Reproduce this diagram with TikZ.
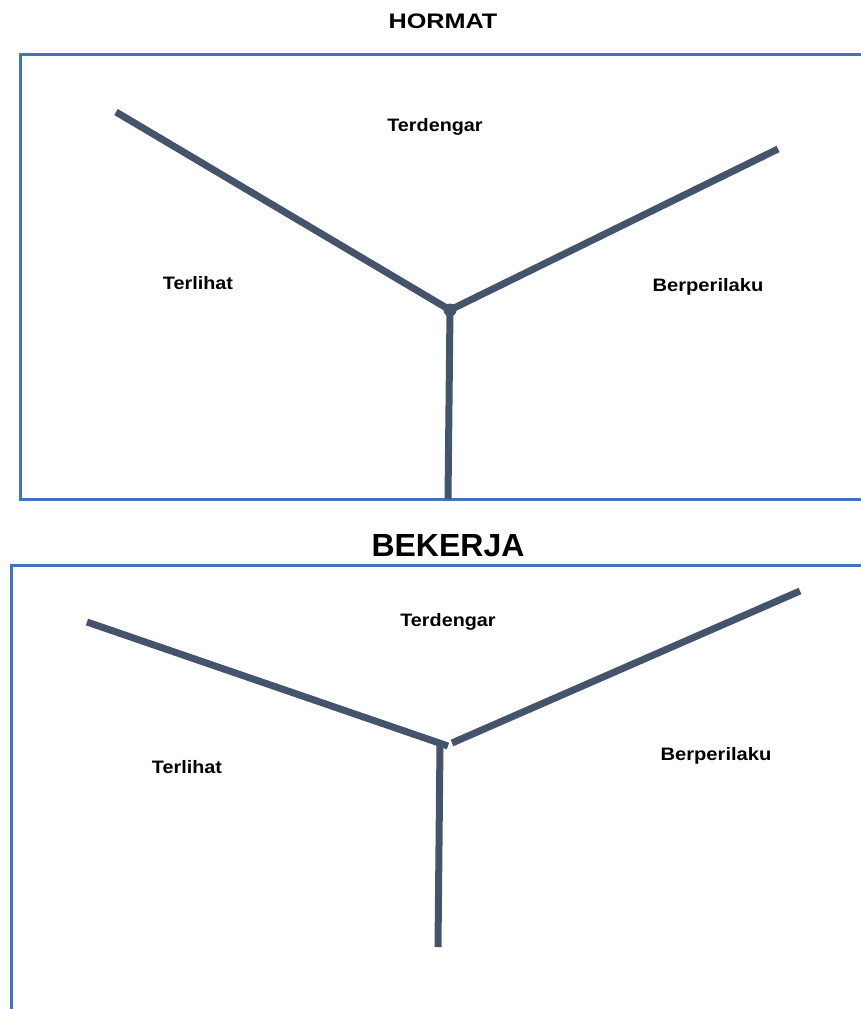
\documentclass[tikz,border=0pt]{standalone}
\usepackage{fontspec}
\setmainfont{Liberation Sans}
\usetikzlibrary{positioning}

\definecolor{slate}{HTML}{44546A}
\definecolor{boxblue}{HTML}{4472C4}

\tikzset{
  yline/.style={draw=slate,line width=7pt,line cap=butt},
  frame/.style={draw=boxblue,line width=3pt},
  lbl/.style={font=\fontsize{18}{21}\selectfont\bfseries,inner sep=0pt},
  ttl/.style={font=\fontsize{21}{24}\selectfont\bfseries,inner sep=0pt}
}

\begin{document}
\begin{tikzpicture}[line join=miter,x=1pt,y=-1pt]
\useasboundingbox (0,0) rectangle (861,1009);
\clip (0,0) rectangle (861,1009);
% first diagram
\node[ttl] (hormat) at (443,21) {\scalebox{1.2}[1]{HORMAT}};
\draw[frame] (880,54) -- (20,54) -- (20,499) -- (880,499);
\coordinate (hc) at (450,310);
\coordinate (hl) at (116,112);
\coordinate (hr) at (778,149);
\coordinate (hb) at (448,499);
\draw[yline] (hl) -- (hc);
\draw[yline] (hr) -- (hc);
\draw[yline] (hc) -- (hb);
\fill[slate] (hc) circle (6.5);
\node[lbl] (hdengar) at (435,127) {\scalebox{1.1}[1]{Terdengar}};
\node[lbl] (hlihat) at (198,283) {\scalebox{1.1}[1]{Terlihat}};
\node[lbl] (hlaku) at (708,287) {\scalebox{1.12}[1]{Berperilaku}};
% second diagram
\node[ttl,font=\fontsize{32}{36}\selectfont\bfseries] (bekerja) at (448,546) {BEKERJA};
\draw[frame] (880,565) -- (11,565) -- (11,1030);
\coordinate (bl) at (87,622);
\coordinate (blc) at (448,746);
\coordinate (brc) at (452,743);
\coordinate (br) at (800,591);
\coordinate (bvt) at (440,744);
\coordinate (bvb) at (438,947);
\draw[yline] (bl) -- (blc);
\draw[yline] (br) -- (brc);
\draw[yline] (bvt) -- (bvb);
\node[lbl] (bdengar) at (448,622) {\scalebox{1.1}[1]{Terdengar}};
\node[lbl] (blihat) at (187,767) {\scalebox{1.1}[1]{Terlihat}};
\node[lbl] (blaku) at (716,756) {\scalebox{1.12}[1]{Berperilaku}};
\end{tikzpicture}
\end{document}
